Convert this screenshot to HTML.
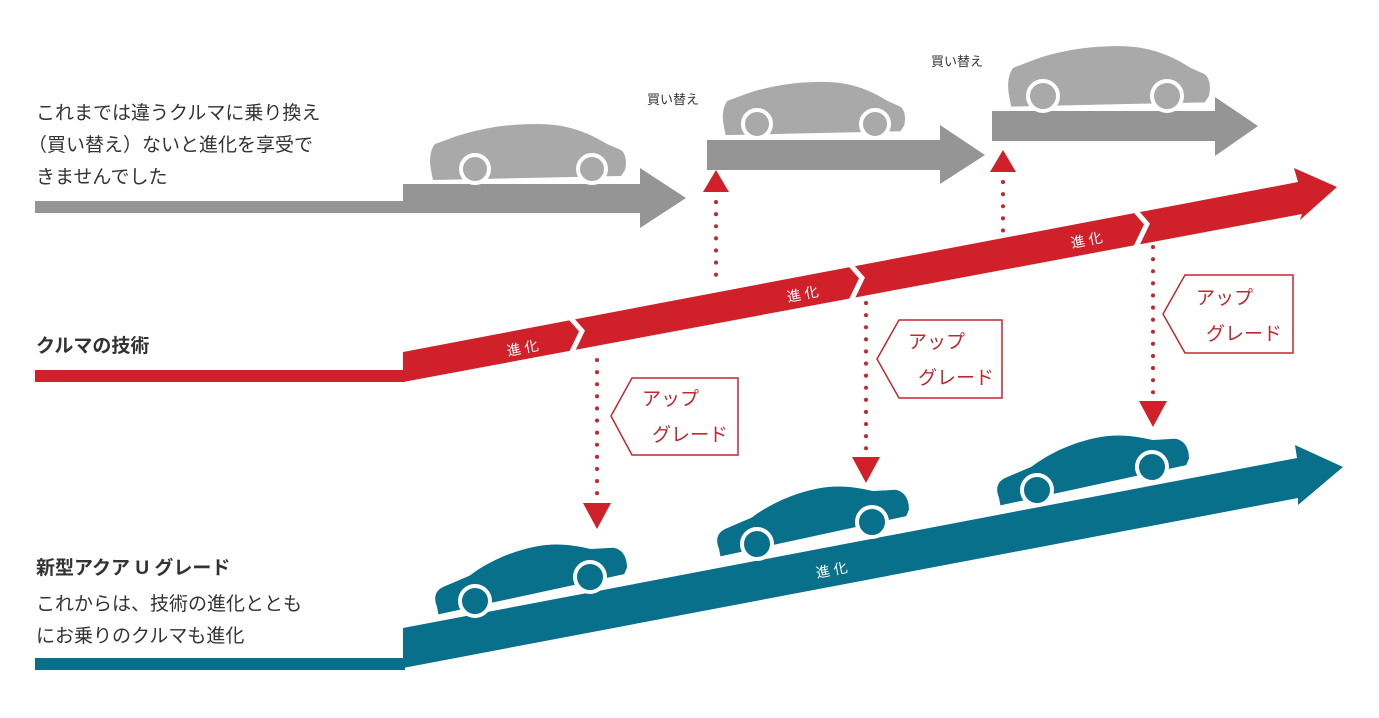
<!DOCTYPE html>
<html><head><meta charset="utf-8"><style>
html,body{margin:0;padding:0;background:#fff;}
svg{display:block;}
text{font-family:"Liberation Sans","Noto Sans CJK JP",sans-serif;}
</style></head><body>
<svg width="1379" height="718" viewBox="0 0 1379 718" xmlns="http://www.w3.org/2000/svg">
<defs>
<g id="car">
<path d="M4,42 C2,32 6,26 14,24 L42,18 C62,8 88,2 112,2 C134,2 150,8 166,15 L188,18 C197,21 200,30 198,40 L194,46 L4,50 Z"/>
</g>
<g id="hatch">
<path d="M4,48 C2,38 3,28 8,22 L30,14 C55,6 80,2 110,2 C140,2 160,10 180,22 L194,28 C199,32 200,40 198,48 L194,54 L6,58 Z"/>
</g>
</defs>
<!-- gray -->
<g fill="#959595">
<rect x="35" y="201" width="370" height="12"/>
<polygon points="403,184 640,184 640,168 686,198 640,228 640,213 403,213"/>
<polygon points="707,140 940,140 940,125 985,155 940,184 940,170 707,170"/>
<polygon points="992,111 1215,111 1215,97 1258,126 1215,156 1215,141 992,141"/>
</g>
<g fill="#a9a9a9">
<g transform="translate(427,122)"><use href="#hatch"/></g>
<g transform="translate(720,80) scale(0.93,0.95)"><use href="#hatch"/></g>
<g transform="translate(1005,44) scale(1.03,1.08)"><use href="#hatch"/></g>
</g>
<g fill="#a9a9a9" stroke="#fff" stroke-width="4">
<circle cx="475" cy="169" r="14"/><circle cx="592" cy="169" r="14"/>
<circle cx="757" cy="124" r="14"/><circle cx="875" cy="124" r="14"/>
<circle cx="1043" cy="96" r="15"/><circle cx="1167" cy="96" r="15"/>
</g>
<!-- red -->
<g fill="#d0212b">
<rect x="35" y="370" width="370" height="12"/>
<polygon points="403,352 1298,182 1294,168 1337,187 1300,220 1302,214 403,382"/>
</g>
<g stroke="#fff" stroke-width="5" fill="none">
<polyline points="568,315 582,331 570,356"/>
<polyline points="848,262 862,278 850,303"/>
<polyline points="1133,208 1147,224 1135,249"/>
</g>
<!-- teal -->
<g fill="#08708a">
<rect x="35" y="658" width="370" height="12"/>
<polygon points="403,628 1297,458 1295,445 1343,467 1298,505 1298,498 403,668"/>
</g>
<g fill="#08708a">
<g transform="translate(425,566) rotate(-11)"><use href="#car"/></g>
<g transform="translate(707,508) rotate(-11)"><use href="#car"/></g>
<g transform="translate(987,457) rotate(-11)"><use href="#car"/></g>
</g>
<g fill="#08708a" stroke="#fff" stroke-width="4">
<circle cx="475" cy="601" r="15"/><circle cx="590" cy="577" r="15"/>
<circle cx="757" cy="544" r="15"/><circle cx="872" cy="522" r="15"/>
<circle cx="1037" cy="490" r="15"/><circle cx="1152" cy="467" r="15"/>
</g>
<!-- dotted connectors -->
<g stroke="#c3272f" stroke-width="4" stroke-linecap="round" stroke-dasharray="0.1 12" fill="none">
<line x1="716" y1="202" x2="716" y2="285"/>
<line x1="1003" y1="182" x2="1003" y2="236"/>
<line x1="597" y1="360" x2="597" y2="496"/>
<line x1="866" y1="303" x2="866" y2="450"/>
<line x1="1153" y1="247" x2="1153" y2="395"/>
</g>
<g fill="#d0212b">
<polygon points="703,192 729,192 716,170"/>
<polygon points="990,172 1016,172 1003,150"/>
<polygon points="583,503 611,503 597,529"/>
<polygon points="852,457 880,457 866,483"/>
<polygon points="1139,401 1167,401 1153,427"/>
</g>
<!-- upgrade boxes -->
<g fill="#fff" stroke="#c3272f" stroke-width="1.5">
<polygon points="632,378 738,378 738,455 632,455 611,416"/>
<polygon points="899,320 1002,320 1002,398 899,398 877,359"/>
<polygon points="1185,275 1293,275 1293,353 1185,353 1163,314"/>
</g>
<g fill="#c3272f" font-size="19">
<text x="642" y="405">アップ</text><text x="652" y="441">グレード</text>
<text x="908" y="348">アップ</text><text x="918" y="384">グレード</text>
<text x="1196" y="304">アップ</text><text x="1206" y="340">グレード</text>
</g>
<!-- evolution labels -->
<g fill="#fff" font-size="14">
<text x="0" y="0" transform="translate(508,356) rotate(-11)">進 化</text>
<text x="0" y="0" transform="translate(788,302) rotate(-11)">進 化</text>
<text x="0" y="0" transform="translate(1072,248) rotate(-11)">進 化</text>
<text x="0" y="0" transform="translate(817,578) rotate(-11)">進 化</text>
</g>
<g fill="#333" font-size="13">
<text x="647" y="104">買い替え</text>
<text x="931" y="66">買い替え</text>
</g>
<g fill="#333" font-size="19">
<text x="36" y="119">これまでは違うクルマに乗り換え</text>
<text x="28" y="151">（買い替え）ないと進化を享受で</text>
<text x="36" y="183">きませんでした</text>
<text x="36" y="352" font-weight="bold">クルマの技術</text>
<text x="36" y="574" font-weight="bold">新型アクア U グレード</text>
<text x="36" y="610">これからは、技術の進化ととも</text>
<text x="36" y="642">にお乗りのクルマも進化</text>
</g>
</svg>
</body></html>
